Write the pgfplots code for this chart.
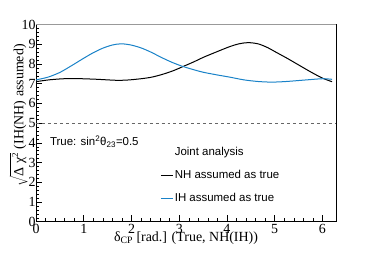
\documentclass[border=0pt]{standalone}
\usepackage{pgfplots}
\pgfplotsset{compat=1.18}
\usepackage{fontspec}
\setmainfont{Liberation Serif}
\newfontfamily\sansf{Liberation Sans}
\definecolor{ihblue}{RGB}{25,130,200}
\begin{document}
\begin{tikzpicture}
\useasboundingbox (-36bp,-31.3bp) rectangle (338bp,221.7bp);
\begin{axis}[
  at={(0,0)}, anchor=south west,
  scale only axis, width=300bp, height=197.2bp,
  xmin=0, xmax=6.2832, ymin=0, ymax=10,
  xtick={0,1,...,6}, ytick={0,1,...,10},
  minor tick num=4,
  tick align=inside,
  xtick pos=bottom, ytick pos=left,
  major tick length=6.5bp, minor tick length=3.5bp,
  tick style={black, line width=0.5bp},
  /pgf/number format/assume math mode=true,
  ticklabel style={font=\fontsize{14}{14}\selectfont},
  yticklabel style={xshift=3bp},
  xticklabel style={yshift=1bp},
  axis line style={line width=0.6bp},
  xlabel={δ\textsubscript{CP} [rad.] (True, NH(IH))},
  xlabel style={font=\fontsize{14}{14}\selectfont, at={(axis description cs:0.5,0)}, anchor=base, yshift=-19.3bp},
  ylabel={$\sqrt{\hbox{Δ χ$^{\hbox{\fontsize{9}{9}\selectfont 2}}$}}$ (IH(NH) assumed)},
  ylabel style={font=\fontsize{14}{14}\selectfont, at={(axis description cs:-0.058,0.54)}, anchor=center},
  legend style={at={(axis cs:2.6,3.87)}, anchor=north west, draw=none, fill=none, inner sep=0pt,
    font=\sansf\fontsize{11.5}{11.5}\selectfont, row sep=10.5bp,
    nodes={inner sep=1.5bp}},
  legend cell align=left,
  legend image code/.code={\draw[#1] (0bp,0bp) -- (12bp,0bp);},
]
\addplot[gray!80!black, dashed, line width=0.6bp, forget plot] coordinates {(0,5) (6.2832,5)};
\addlegendimage{empty legend}
\addlegendentry{Joint analysis}
\addplot[black, line width=1bp, smooth, tension=0.5] coordinates {
(0,7.10) (0.3,7.20) (0.7,7.26) (1.2,7.23) (1.7,7.17) (2.0,7.20) (2.38,7.31) (2.66,7.48)
(2.9,7.68) (3.08,7.87) (3.3,8.10) (3.5,8.33) (3.8,8.63) (4.06,8.88) (4.25,9.02) (4.44,9.08) (4.65,9.02) (4.85,8.83) (5.0,8.63) (5.25,8.30) (5.5,7.95) (5.75,7.60) (6.0,7.28) (6.2,7.10)};
\addlegendentry{NH assumed as true}
\addplot[ihblue, line width=1bp, smooth, tension=0.5] coordinates {
(0,7.19) (0.25,7.33) (0.5,7.57) (0.75,7.92) (1.0,8.29) (1.2,8.57) (1.4,8.80) (1.6,8.96) (1.78,9.02) (1.97,8.97) (2.18,8.83) (2.38,8.63) (2.66,8.29)
(2.87,8.06) (3.08,7.87) (3.3,7.71) (3.5,7.58) (3.8,7.44) (4.06,7.33) (4.36,7.19) (4.65,7.11) (4.9,7.08) (5.1,7.09) (5.3,7.12) (5.66,7.19) (6.0,7.25) (6.2,7.22)};
\addlegendentry{IH assumed as true}
\node[anchor=base west, inner sep=0pt, font=\sansf\fontsize{11.5}{11.5}\selectfont] at (axis cs:0.29,3.87) {True: sin\textsuperscript{2}θ\textsubscript{23}=0.5};
\draw[black!40, line width=1.5bp] (rel axis cs:0,1) -- (rel axis cs:1,1);
\draw[black!65, line width=0.8bp] (rel axis cs:1,0) -- (rel axis cs:1,1);
\end{axis}
\end{tikzpicture}
\end{document}
